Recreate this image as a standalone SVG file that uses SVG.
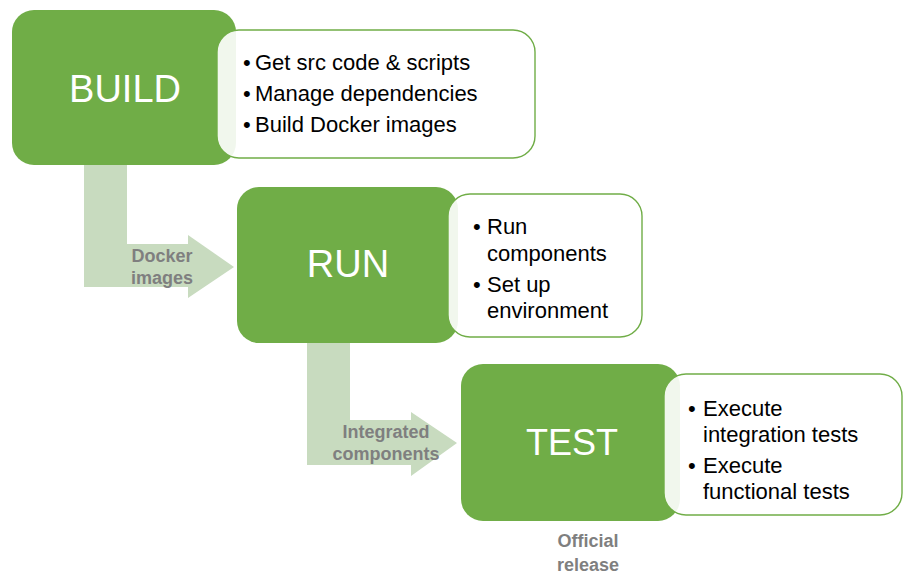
<svg xmlns="http://www.w3.org/2000/svg" width="903" height="575" viewBox="0 0 903 575">
  <style>
    .stage { fill: #70AD47; }
    .stage-label { font-family: "Liberation Sans", Arial, sans-serif; font-size: 38px; fill: #ffffff; text-anchor: middle; }
    .detail { fill: #ffffff; fill-opacity: 0.9; stroke: #70AD47; stroke-width: 1.4; }
    .item { font-family: "Liberation Sans", Arial, sans-serif; font-size: 22px; fill: #000000; }
    .flow { fill: #C8DBBF; }
    .flow-label { font-family: "Liberation Sans", Arial, sans-serif; font-size: 18px; font-weight: bold; fill: #7F7F7F; text-anchor: middle; }
  </style>
  <rect width="903" height="575" fill="#ffffff"/>

  <!-- connectors: bent block arrows between stages -->
  <g id="connectors">
    <polygon class="flow" points="84,165 127,165 127,244 188,244 188,235 234,267 188,298 188,287 84,287"/>
    <polygon class="flow" points="307,343 350,343 350,420 411,420 411,412 457,443 411,476 411,465 307,465"/>
    <text class="flow-label" x="162" y="262">Docker</text>
    <text class="flow-label" x="162" y="284">images</text>
    <text class="flow-label" x="386" y="438">Integrated</text>
    <text class="flow-label" x="386" y="460">components</text>
  </g>

  <!-- BUILD stage -->
  <g id="build">
    <rect class="stage" x="12" y="10" width="224" height="155" rx="22" ry="22"/>
    <text class="stage-label" x="125" y="102">BUILD</text>
    <rect class="detail" x="217" y="30" width="318" height="128" rx="22" ry="22"/>
    <text class="item" x="243" y="70">•</text><text class="item" x="255" y="70">Get src code &amp; scripts</text>
    <text class="item" x="243" y="101">•</text><text class="item" x="255" y="101">Manage dependencies</text>
    <text class="item" x="243" y="132">•</text><text class="item" x="255" y="132">Build Docker images</text>
  </g>

  <!-- RUN stage -->
  <g id="run">
    <rect class="stage" x="237" y="187" width="221" height="156" rx="22" ry="22"/>
    <text class="stage-label" x="348" y="277">RUN</text>
    <rect class="detail" x="448" y="194" width="194" height="143" rx="22" ry="22"/>
    <text class="item" x="473" y="234">•</text><text class="item" x="487" y="234">Run</text>
    <text class="item" x="487" y="261">components</text>
    <text class="item" x="473" y="292">•</text><text class="item" x="487" y="292">Set up</text>
    <text class="item" x="487" y="318">environment</text>
  </g>

  <!-- TEST stage -->
  <g id="test">
    <rect class="stage" x="461" y="364" width="219" height="157" rx="22" ry="22"/>
    <text class="stage-label" x="572" y="455" style="font-size:36px">TEST</text>
    <rect class="detail" x="664" y="374" width="238" height="141" rx="22" ry="22"/>
    <text class="item" x="688" y="416">•</text><text class="item" x="703" y="416">Execute</text>
    <text class="item" x="703" y="442">integration tests</text>
    <text class="item" x="688" y="473">•</text><text class="item" x="703" y="473">Execute</text>
    <text class="item" x="703" y="499">functional tests</text>
  </g>

  <!-- outcome label below TEST -->
  <g id="release">
    <text class="flow-label" x="588" y="547">Official</text>
    <text class="flow-label" x="588" y="571">release</text>
  </g>
</svg>
